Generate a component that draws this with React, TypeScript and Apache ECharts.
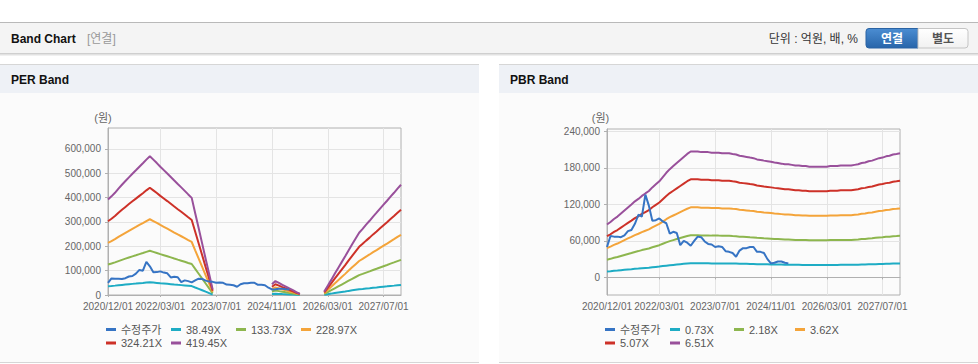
import React, { useEffect, useRef } from "react";
import * as echarts from "echarts";

const categories = [
  "2020/12/01",
  "2021/01/01", "2021/02/01", "2021/03/01", "2021/04/01", "2021/05/01", "2021/06/01",
  "2021/07/01", "2021/08/01", "2021/09/01", "2021/10/01", "2021/11/01", "2021/12/01",
  "2022/01/01", "2022/02/01", "2022/03/01", "2022/04/01", "2022/05/01", "2022/06/01",
  "2022/07/01", "2022/08/01", "2022/09/01", "2022/10/01", "2022/11/01", "2022/12/01",
  "2023/01/01", "2023/02/01", "2023/03/01", "2023/04/01", "2023/05/01", "2023/06/01",
  "2023/07/01", "2023/08/01", "2023/09/01", "2023/10/01", "2023/11/01", "2023/12/01",
  "2024/01/01", "2024/02/01", "2024/03/01", "2024/04/01", "2024/05/01", "2024/06/01",
  "2024/07/01", "2024/08/01", "2024/09/01", "2024/10/01", "2024/11/01", "2024/12/01",
  "2025/01/01", "2025/02/01", "2025/03/01", "2025/04/01", "2025/05/01", "2025/06/01",
  "2025/07/01", "2025/08/01", "2025/09/01", "2025/10/01", "2025/11/01", "2025/12/01",
  "2026/01/01", "2026/02/01", "2026/03/01", "2026/04/01", "2026/05/01", "2026/06/01",
  "2026/07/01", "2026/08/01", "2026/09/01", "2026/10/01", "2026/11/01", "2026/12/01",
  "2027/01/01", "2027/02/01", "2027/03/01", "2027/04/01", "2027/05/01", "2027/06/01",
  "2027/07/01", "2027/08/01", "2027/09/01", "2027/10/01", "2027/11/01", "2027/12/01",
];

const tickDates = ["2020/12/01", "2022/03/01", "2023/07/01", "2024/11/01", "2026/03/01", "2027/07/01"];

// 수정주가 (원)
const price: (number | null)[] = [
  50000, 68000, 67000, 67000, 66000, 69000, 76000, 78000, 88000, 103000,
  100000, 136000, 118000, 93000, 94000, 97000, 92000, 89000, 72000, 75000,
  73000, 53000, 60000, 57000, 52000, 60000, 67000, 66000, 59000, 55000,
  54000, 50000, 51000, 50000, 43000, 42000, 40000, 34000, 44000, 48000,
  48000, 50000, 50000, 42000, 42000, 40000, 30000, 23000, 24000, 26000,
  26000, 24000, 23000,
  null, null, null, null, null, null, null, null, null, null,
  null, null, null, null, null, null, null, null, null, null,
  null, null, null, null, null, null, null, null, null, null,
  null, null,
];

// EPS (원) behind the PER band
const perEps: (number | null)[] = [
  935, 966, 1001, 1042, 1080, 1116, 1152, 1187, 1221, 1256, 1290, 1326, 1359,
  1326, 1292, 1256, 1223, 1190, 1156, 1121, 1087, 1054, 1020, 985, 951,
  801, 653, 503, 353, 205, 55,
  null, null, null, null, null, null, null, null, null, null, null, null, null, null, null, null,
  105, 136, 119, 100, 83, 64, 48, 29, 12,
  null, null, null, null, null, null,
  33, 91, 148, 207, 265, 322, 379, 439, 496, 553, 610, 648, 689, 727, 768, 806,
  846, 885, 923, 963, 1001, 1042, 1080,
];

// BPS (원) behind the PBR band
const pbrBps: number[] = [
  13360, 13980, 14750, 15360, 16130, 16900, 17670, 18430, 19200, 19820,
  20580, 21200, 21810, 22730, 23500, 24270, 25350, 26420, 27340, 28110,
  28880, 29650, 30420, 31180, 31800, 31800, 31800, 31640, 31640, 31640,
  31490, 31490, 31490, 31340, 31340, 31340, 31180, 31030, 30720, 30570,
  30420, 30260, 30110, 29800, 29650, 29490, 29340, 29190, 29030, 28880,
  28730, 28570, 28570, 28420, 28260, 28260, 28110, 28110, 27960, 27960,
  27960, 27960, 27960, 27960, 28110, 28110, 28110, 28260, 28260, 28260,
  28260, 28420, 28570, 28880, 29030, 29340, 29490, 29800, 30110, 30260,
  30570, 30720, 31030, 31180, 31340,
];

const perMultiples = [38.49, 133.73, 228.97, 324.21, 419.45];
const pbrMultiples = [0.73, 2.18, 3.62, 5.07, 6.51];

const perTicks = [0, 100000, 200000, 300000, 400000, 500000, 600000];
const pbrTicks = [0, 60000, 120000, 180000, 240000];

const priceColor = "#3674c4";
const bandColors = ["#1eacc4", "#8db64e", "#f4a43a", "#cd3128", "#99509b"];

const FONT = "'Liberation Sans', Arial, 'Noto Sans CJK KR', sans-serif";
const AXIS_COLOR = "#b0b0b0";
const GRID_LINE = "#e4e4e4";

const tickFn = (_i: number, v: string) => tickDates.indexOf(v) >= 0;

function bandName(m: number) {
  return m.toFixed(2) + "X";
}

function buildOption() {
  const grids = [
    { left: 108, top: 128, width: 293, height: 167 },
    { left: 607, top: 129, width: 293, height: 166 },
  ];

  const xAxes = [0, 1].map((g) => ({
    type: "category",
    gridIndex: g,
    data: categories,
    boundaryGap: false,
    axisLine: { lineStyle: { color: AXIS_COLOR } },
    axisTick: { show: true, length: 2, interval: tickFn, lineStyle: { color: AXIS_COLOR } },
    axisLabel: { interval: tickFn, color: "#666", fontSize: 10, fontFamily: FONT, margin: 6 },
    splitLine: { show: true, interval: tickFn, lineStyle: { color: GRID_LINE } },
  }));

  const fmt = (v: number) => v.toLocaleString("en-US");

  const yAxes = [
    {
      type: "value",
      gridIndex: 0,
      min: 0,
      max: 686000,
      name: "(원)",
      nameLocation: "end",
      nameGap: 5,
      nameTextStyle: { color: "#666", fontSize: 11, fontFamily: FONT, align: "center", verticalAlign: "bottom", padding: [0, 10, 0, 0] },
      axisLine: { show: true, lineStyle: { color: AXIS_COLOR } },
      axisTick: { show: true, length: 3, customValues: perTicks, lineStyle: { color: AXIS_COLOR } },
      axisLabel: { customValues: perTicks, color: "#666", fontSize: 10, fontFamily: FONT, margin: 7, formatter: fmt },
      splitLine: { show: true, lineStyle: { color: GRID_LINE } },
    },
    {
      type: "value",
      gridIndex: 1,
      min: -29000,
      max: 244000,
      name: "(원)",
      nameLocation: "end",
      nameGap: 6,
      nameTextStyle: { color: "#666", fontSize: 11, fontFamily: FONT, align: "center", verticalAlign: "bottom", padding: [0, 13, 0, 0] },
      axisLine: { show: true, lineStyle: { color: AXIS_COLOR } },
      axisTick: { show: true, length: 3, customValues: pbrTicks, lineStyle: { color: AXIS_COLOR } },
      axisLabel: { customValues: pbrTicks, color: "#666", fontSize: 10, fontFamily: FONT, margin: 7, formatter: fmt },
      splitLine: { show: true, lineStyle: { color: GRID_LINE } },
    },
  ];

  const series: any[] = [];
  const addChart = (g: number, base: (number | null)[], mults: number[]) => {
    mults.forEach((m, k) => {
      series.push({
        type: "line",
        name: bandName(m),
        xAxisIndex: g,
        yAxisIndex: g,
        data: base.map((b) => (b == null ? null : Math.round(b * m))),
        showSymbol: false,
        symbol: "none",
        color: bandColors[k],
        lineStyle: { width: 2, color: bandColors[k] },
        z: 2,
      });
    });
    series.push({
      type: "line",
      name: "수정주가",
      xAxisIndex: g,
      yAxisIndex: g,
      data: price,
      showSymbol: false,
      symbol: "none",
      color: priceColor,
      lineStyle: { width: 2, color: priceColor },
      z: 3,
    });
  };
  addChart(0, perEps, perMultiples);
  addChart(1, pbrBps, pbrMultiples);

  const legendBase = {
    icon: "rect",
    itemWidth: 10,
    itemHeight: 3,
    padding: 0,
    textStyle: { fontSize: 11, color: "#555", fontFamily: FONT },
  };
  const row1 = 324;
  const row2 = 337.5;
  const legendItems: [string, number, number][] = [
    ["수정주가", 106, row1],
    [bandName(perMultiples[0]), 171, row1],
    [bandName(perMultiples[1]), 236, row1],
    [bandName(perMultiples[2]), 301, row1],
    [bandName(perMultiples[3]), 106, row2],
    [bandName(perMultiples[4]), 171, row2],
    ["수정주가", 605, row1],
    [bandName(pbrMultiples[0]), 670, row1],
    [bandName(pbrMultiples[1]), 734, row1],
    [bandName(pbrMultiples[2]), 795, row1],
    [bandName(pbrMultiples[3]), 605, row2],
    [bandName(pbrMultiples[4]), 670, row2],
  ];
  const legend = legendItems.map(([name, left, top]) => ({ ...legendBase, data: [name], left, top }));

  const btnGrad = new echarts.graphic.LinearGradient(0, 0, 0, 1, [
    { offset: 0, color: "#4b8dd2" },
    { offset: 1, color: "#2865aa" },
  ]);
  const btnGradW = new echarts.graphic.LinearGradient(0, 0, 0, 1, [
    { offset: 0, color: "#ffffff" },
    { offset: 1, color: "#f1f1f1" },
  ]);

  const panel = (x: number) => [
    { type: "rect", z: -10, shape: { x, y: 64, width: 479, height: 299 }, style: { fill: "#fbfbfb" } },
    { type: "rect", z: -9, shape: { x, y: 64, width: 479, height: 29 }, style: { fill: "#eef1f6" } },
    { type: "line", z: -8, shape: { x1: x, y1: 64.5, x2: x + 479, y2: 64.5 }, style: { stroke: "#d6d6d6", lineWidth: 1 } },
    { type: "line", z: -8, shape: { x1: x, y1: 362.5, x2: x + 479, y2: 362.5 }, style: { stroke: "#d6d6d6", lineWidth: 1 } },
  ];

  const graphic = [
    { type: "rect", z: -10, shape: { x: 0, y: 22, width: 978, height: 31 }, style: { fill: "#f4f4f4" } },
    { type: "line", z: -8, shape: { x1: 0, y1: 22.5, x2: 978, y2: 22.5 }, style: { stroke: "#b9b9b9", lineWidth: 1 } },
    { type: "line", z: -8, shape: { x1: 0, y1: 53.5, x2: 978, y2: 53.5 }, style: { stroke: "#cfcfcf", lineWidth: 1 } },
    { type: "line", z: -8, shape: { x1: 0, y1: 54.5, x2: 978, y2: 54.5 }, style: { stroke: "#e2e2e2", lineWidth: 1 } },
    { type: "line", z: -8, shape: { x1: 0, y1: 55.5, x2: 978, y2: 55.5 }, style: { stroke: "#f0f0f0", lineWidth: 1 } },
    { type: "text", z: 10, x: 11, y: 38.5, style: { text: "Band Chart", font: "bold 12px " + FONT, fill: "#111", textVerticalAlign: "middle", verticalAlign: "middle" } },
    { type: "text", z: 10, x: 87, y: 38.5, style: { text: "[연결]", font: "12px " + FONT, fill: "#999", textVerticalAlign: "middle", verticalAlign: "middle" } },
    { type: "text", z: 10, x: 858, y: 38.5, style: { text: "단위 : 억원, 배, %", font: "12px " + FONT, fill: "#333", textAlign: "right", align: "right", textVerticalAlign: "middle", verticalAlign: "middle" } },
    { type: "rect", z: 5, shape: { x: 866, y: 28.5, width: 52, height: 19.5, r: [3, 0, 0, 3] }, style: { fill: btnGrad, stroke: "#2a63a3", lineWidth: 1 } },
    { type: "rect", z: 5, shape: { x: 918, y: 28.5, width: 50, height: 19.5, r: [0, 3, 3, 0] }, style: { fill: btnGradW, stroke: "#c4c4c4", lineWidth: 1 } },
    { type: "text", z: 10, x: 892, y: 38.5, style: { text: "연결", font: "bold 12px " + FONT, fill: "#ffffff", textAlign: "center", align: "center", textVerticalAlign: "middle", verticalAlign: "middle" } },
    { type: "text", z: 10, x: 943, y: 38.5, style: { text: "별도", font: "bold 12px " + FONT, fill: "#555", textAlign: "center", align: "center", textVerticalAlign: "middle", verticalAlign: "middle" } },
    ...panel(0),
    ...panel(499),
    { type: "text", z: 10, x: 11, y: 79.5, style: { text: "PER Band", font: "bold 12px " + FONT, fill: "#111", textVerticalAlign: "middle", verticalAlign: "middle" } },
    { type: "text", z: 10, x: 510, y: 79.5, style: { text: "PBR Band", font: "bold 12px " + FONT, fill: "#111", textVerticalAlign: "middle", verticalAlign: "middle" } },
  ];

  return {
    animation: false,
    backgroundColor: "#ffffff",
    textStyle: { fontFamily: FONT },
    grid: grids.map((g) => ({ ...g, show: true, borderColor: AXIS_COLOR, borderWidth: 1, backgroundColor: "transparent" })),
    xAxis: xAxes,
    yAxis: yAxes,
    legend,
    graphic,
    series,
  };
}

export default function App() {
  const ref = useRef<HTMLDivElement>(null);
  useEffect(() => {
    if (!ref.current) return;
    const chart = echarts.init(ref.current, undefined, { renderer: "svg" });
    chart.setOption(buildOption() as any);
    return () => chart.dispose();
  }, []);
  return (
    <div style={{ position: "absolute", left: 0, top: 0, width: 978, height: 364, background: "#fff" }}>
      <div ref={ref} style={{ width: 978, height: 364 }} />
    </div>
  );
}
